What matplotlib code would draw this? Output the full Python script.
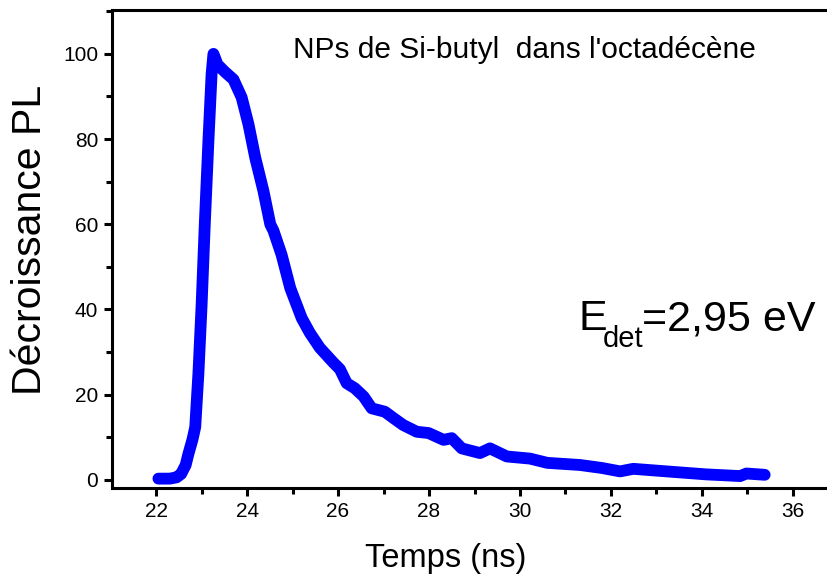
import matplotlib
matplotlib.use("Agg")
import matplotlib.pyplot as plt
from matplotlib.ticker import MultipleLocator

plt.rcParams['font.family'] = ['Liberation Sans', 'DejaVu Sans']

# PL decay
temps_ns = [22.05, 22.3, 22.45, 22.55, 22.65, 22.71, 22.8, 22.86, 22.93, 23.0,
            23.07, 23.15, 23.22, 23.26, 23.35, 23.52, 23.7, 23.88, 24.03, 24.18,
            24.36, 24.51, 24.58, 24.76, 24.95, 25.2, 25.38, 25.6, 25.9, 26.04,
            26.19, 26.37, 26.56, 26.74, 27.03, 27.22, 27.43, 27.73, 27.99, 28.32,
            28.5, 28.72, 29.12, 29.34, 29.71, 30.22, 30.6, 31.32, 31.8, 32.2,
            32.49, 33.22, 34.09, 34.84, 34.98, 35.38]
decroissance = [0.3, 0.3, 0.6, 1.4, 3.5, 6.1, 9.5, 12.4, 25, 41,
                60, 79.6, 95.3, 100, 97.5, 95.7, 94, 89.8, 83.5, 75.6,
                67.8, 60, 58.5, 52.8, 45, 38, 34.5, 31, 27.5, 26,
                22.7, 21.5, 19.6, 16.8, 16.0, 14.5, 12.9, 11.3, 11.0, 9.4,
                9.8, 7.4, 6.3, 7.4, 5.5, 5.0, 4.0, 3.5, 2.8, 2.0,
                2.6, 2.0, 1.3, 0.9, 1.5, 1.2]

fig = plt.figure(figsize=(8.27, 5.81), dpi=100)
ax = fig.add_axes([112 / 827, 1 - 488 / 581, 1 - 112 / 827, (488 - 10) / 581])

ax.plot(temps_ns, decroissance, color=(0, 0, 1), lw=8.5, solid_capstyle='round',
        solid_joinstyle='round')

ax.set_xlim(21.03, 36.75)
ax.set_ylim(-1.9, 110.3)
ax.xaxis.set_major_locator(MultipleLocator(2))
ax.xaxis.set_minor_locator(MultipleLocator(1))
ax.yaxis.set_major_locator(MultipleLocator(20))
ax.yaxis.set_minor_locator(MultipleLocator(10))

ax.spines['right'].set_visible(False)
for s in ['left', 'bottom', 'top']:
    ax.spines[s].set_linewidth(2.2)
ax.tick_params(which='major', direction='out', length=6, width=2.2,
               labelsize=15, pad=4)
ax.tick_params(which='minor', direction='out', length=4, width=2.2)

ax.set_xlabel('Temps (ns)', fontsize=23.5)
ax.xaxis.set_label_coords(0.466, -0.115)
ax.set_ylabel('Décroissance PL', fontsize=29.5)
ax.yaxis.set_label_coords(-0.088, 0.519)

ax.text(0.253, 0.90, "NPs de Si-butyl  dans l'octadécène", transform=ax.transAxes,
        fontsize=21.5, va='baseline', ha='left')

# E_det label built from three pieces so the subscript sits low like the original
ax.text(0.652, 0.3305, 'E', transform=ax.transAxes, fontsize=31,
        va='baseline', ha='left')
ax.text(0.687, 0.295, 'det', transform=ax.transAxes, fontsize=21,
        va='baseline', ha='left')
ax.text(0.741, 0.3305, '=2,95 eV', transform=ax.transAxes, fontsize=31,
        va='baseline', ha='left')

fig.savefig('out.png', dpi=100)
